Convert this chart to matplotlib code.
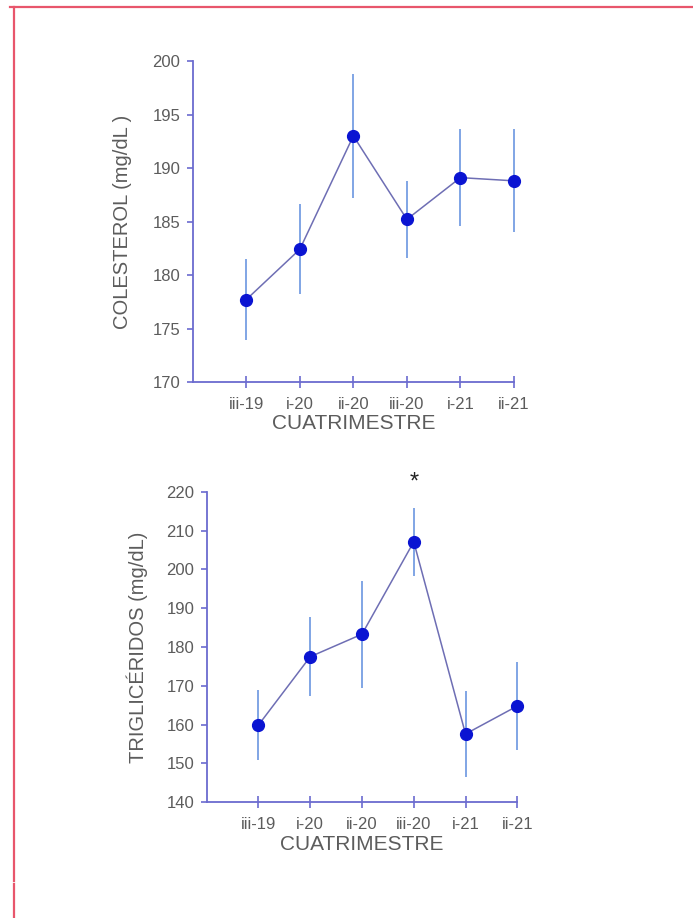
import matplotlib
matplotlib.use("Agg")
import matplotlib.pyplot as plt
from matplotlib.lines import Line2D

plt.rcParams['font.family'] = ['Liberation Sans', 'DejaVu Sans']

# data
periods = ['iii-19', 'i-20', 'ii-20', 'iii-20', 'i-21', 'ii-21']
chol_mean = [177.7, 182.4, 193.0, 185.2, 189.1, 188.8]
chol_err = [3.8, 4.2, 5.8, 3.6, 4.5, 4.8]
trig_mean = [159.9, 177.5, 183.3, 207.1, 157.6, 164.8]
trig_err = [9.1, 10.2, 13.8, 8.7, 11.0, 11.4]
signif = ['', '', '', '*', '', '']

axis_col = '#6b6bcf'
text_col = '#5c5c5c'
mark_col = '#0a14d2'
line_col = '#6e6eb4'
err_col = '#6b96e0'
border_col = '#e8566c'

W, H = 693, 918
fig = plt.figure(figsize=(W / 100, H / 100), dpi=100)

# page border
fig.add_artist(Line2D([10 / W, 1], [1 - 7 / H, 1 - 7 / H], color=border_col, lw=1.6))
fig.add_artist(Line2D([14 / W, 14 / W], [1 - 7 / H, 1 - 881 / H], color=border_col, lw=1.6))
fig.add_artist(Line2D([14 / W, 14 / W], [1 - 884 / H, 0], color=border_col, lw=1.6))


def panel(rect, mean, err, ylim, yticks, ylabel, ylab_x):
    ax = fig.add_axes(rect)
    x = list(range(1, len(periods) + 1))
    ax.errorbar(x, mean, yerr=err, fmt='none', ecolor=err_col, elinewidth=1.2,
                capsize=0, zorder=2, clip_on=False)
    ax.plot(x, mean, color=line_col, lw=1.1, zorder=3, clip_on=False)
    ax.plot(x, mean, 'o', color=mark_col, ms=8.5, zorder=4, clip_on=False)
    ax.set_xlim(0, len(periods))
    ax.set_ylim(*ylim)
    ax.set_yticks(yticks)
    ax.set_xticks(x)
    ax.set_xticklabels(periods)
    for s in ['top', 'right']:
        ax.spines[s].set_visible(False)
    for s in ['left', 'bottom']:
        ax.spines[s].set_color(axis_col)
        ax.spines[s].set_linewidth(1.3)
    ax.tick_params(axis='y', direction='out', length=4, width=1.2, color=axis_col,
                   labelcolor=text_col, labelsize=12, pad=5)
    ax.tick_params(axis='x', direction='inout', length=9, width=1.2, color=axis_col,
                   labelcolor=text_col, labelsize=12, pad=6)
    ax.set_xlabel('CUATRIMESTRE', color=text_col, fontsize=15, labelpad=2)
    ax.set_ylabel(ylabel, color=text_col, fontsize=14.5)
    ax.yaxis.set_label_coords(ylab_x, 0.5)
    ax.yaxis.label.set_va('center')
    ax.patch.set_alpha(0)
    return ax


panel([192.7 / W, 1 - 382 / H, 321.3 / W, 321 / H], chol_mean, chol_err,
      (170, 200), range(170, 201, 5), 'COLESTEROL (mg/dL )', (122 - 192.7) / 321.3)

ax2 = panel([206.7 / W, 1 - 802.3 / H, 310.6 / W, 310.6 / H], trig_mean, trig_err,
            (140, 220), range(140, 221, 10), 'TRIGLICÉRIDOS (mg/dL)', (137 - 206.7) / 310.6)
for i, s in enumerate(signif):
    if s:
        ax2.annotate(s, (i + 1, trig_mean[i] + trig_err[i]), xytext=(0, 18),
                     textcoords='offset points', ha='center', va='center',
                     fontsize=17, color='#222222', annotation_clip=False)

fig.savefig('out.png', dpi=100)
